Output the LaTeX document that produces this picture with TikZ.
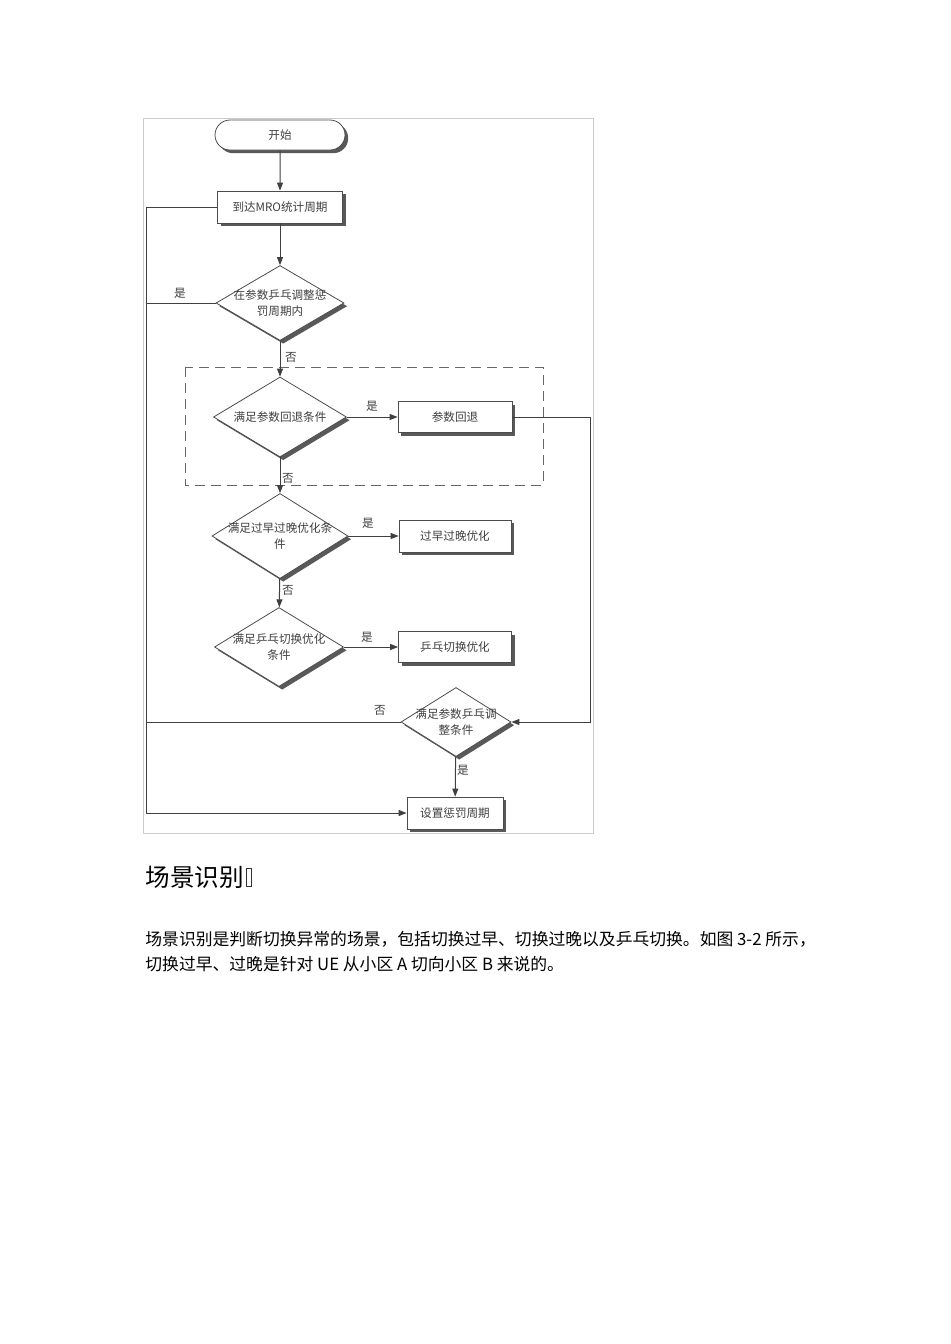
\documentclass[tikz,border=0pt]{standalone}
\usepackage{fontspec}
\setmainfont{Noto Sans CJK SC}
\usetikzlibrary{arrows.meta, positioning, shapes.geometric, shapes.misc, shadows}

\begin{document}
\begin{tikzpicture}[x=0.5pt, y=-0.5pt,
    chart/.style={font=\fontsize{5.8}{8}\selectfont, text=black!75},
    shad/.style={drop shadow={shadow xshift=1.6pt, shadow yshift=-1.6pt, fill=black!65, opacity=1}},
    term/.style={chart, shad, rounded rectangle, draw=black!70, fill=white, minimum width=65pt, minimum height=15pt, inner sep=0pt},
    procbox/.style={chart, shad, rectangle, draw=black!70, fill=white, minimum width=57pt, minimum height=15.5pt, inner sep=0pt},
    decide/.style={chart, shad, diamond, draw=black!70, fill=white, align=center, shape aspect=1.6, inner xsep=-3pt, inner ysep=-2pt},
    flow/.style={draw=black!75, line width=0.5pt, -{Triangle[length=4pt, width=3pt]}},
    link/.style={draw=black!75, line width=0.5pt},
    yesno/.style={chart, inner sep=0pt}]

    % page and picture frame
    \useasboundingbox (0,0) rectangle (950,1344);
    \fill[white] (0,0) rectangle (950,1344);
    \draw[black!20] (143,118) rectangle (593,833);
    \coordinate (lft) at (146,0);

    % dashed group round the roll-back check
    \draw[black!60, dashed, dash pattern=on 5pt off 3pt] (185,367) rectangle (543,485);

    % main column
    \node[term] (start) at (280,135) {开始};
    \node[procbox, minimum width=62.5pt, minimum height=16pt] (mro) at (280,207) {到达MRO统计周期};
    \node[decide, minimum width=64pt, minimum height=37.5pt] (inpen) at (280,303) {在参数乒乓调整惩\\罚周期内};
    \node[decide, minimum width=66.5pt, minimum height=40pt] (back) at (280,417) {满足参数回退条件};
    \node[decide, minimum width=68pt, minimum height=42.5pt] (early) at (280,536) {满足过早过晚优化条\\件};
    \node[decide, minimum width=64.5pt, minimum height=39.5pt] (pingc) at (279,647) {满足乒乓切换优化\\条件};

    % right column
    \node[procbox] (rback) at (455,417) {参数回退};
    \node[procbox, minimum width=56pt, minimum height=16pt] (rearly) at (455,536) {过早过晚优化};
    \node[procbox, minimum width=56.5pt] (rping) at (455,647) {乒乓切换优化};
    \node[decide, minimum width=55pt, minimum height=34.5pt] (adjc) at (456,722) {满足参数乒乓调\\整条件};
    \node[procbox, minimum width=48pt, minimum height=16pt] (setp) at (455,813) {设置惩罚周期};

    % connectors
    \draw[flow] (start) -- (mro);
    \draw[flow] (mro) -- (inpen);
    \draw[flow] (inpen) -- (back);
    \draw[flow] (back) -- (early);
    \draw[flow] (early) -- (pingc);
    \draw[flow] (back.east) -- (rback.west);
    \draw[flow] (early.east) -- (rearly.west);
    \draw[flow] (pingc.east) -- (rping.west);
    \draw[flow] (rback.east) -- ++(78,0) |- (adjc.east);
    \draw[flow] (adjc) -- (setp);
    \draw[flow] (mro.west) -| (lft |- setp.west) -- (setp.west);
    \draw[link] (inpen.west) -- (inpen.west -| lft);
    \draw[link] (adjc.west) -- (adjc.west -| lft);

    % yes / no labels
    \node[yesno] (y1) at (180,293) {是};
    \node[yesno] (n1) at (291,357) {否};
    \node[yesno] (y2) at (372,406) {是};
    \node[yesno] (n2) at (288,478) {否};
    \node[yesno] (y3) at (368,523) {是};
    \node[yesno] (n3) at (288,590) {否};
    \node[yesno] (y4) at (367,637) {是};
    \node[yesno] (n4) at (380,710) {否};
    \node[yesno] (y5) at (463,770) {是};

    % text below the picture
    \node[anchor=west, font=\fontsize{12.3}{14}\selectfont, inner sep=0pt] (head) at (145,877) {场景识别};
    \node[draw=black!80, line width=0.4pt, inner sep=0pt, minimum width=2.5pt, minimum height=9pt, right=1pt of head] (tofu) {};
    \node[anchor=north west, align=left, inner sep=0pt, font=\fontsize{8.4}{12.5}\selectfont] (para) at (145,931)
        {场景识别是判断切换异常的场景，包括切换过早、切换过晚以及乒乓切换。如图 3-2 所示，\\
         切换过早、过晚是针对 UE 从小区 A 切向小区 B 来说的。};
\end{tikzpicture}
\end{document}
